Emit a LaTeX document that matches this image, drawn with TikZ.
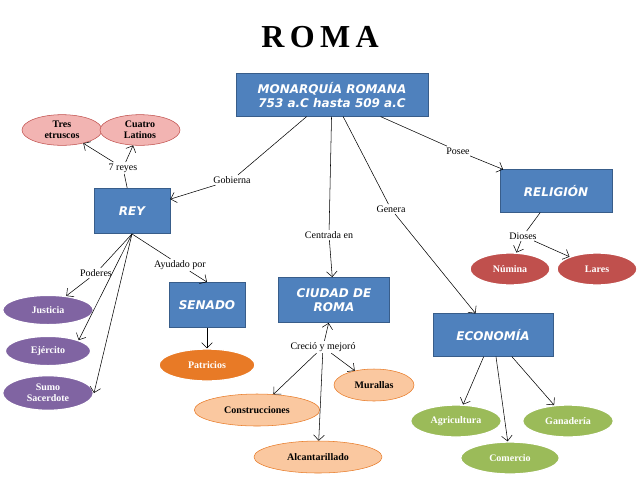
\documentclass[tikz,border=0pt]{standalone}
\usepackage{fontspec}
\setmainfont{Liberation Serif}
\newfontfamily\boxfont{DejaVu Sans}
\usetikzlibrary{shapes.geometric,arrows.meta}
\definecolor{boxblue}{RGB}{79,129,189}
\definecolor{boxedge}{RGB}{56,93,138}
\definecolor{pinkfill}{RGB}{242,180,178}
\definecolor{purplefill}{RGB}{128,100,162}
\definecolor{orangefill}{RGB}{232,122,38}
\definecolor{peachfill}{RGB}{250,200,160}
\definecolor{greenfill}{RGB}{155,187,89}
\definecolor{redfill}{RGB}{192,80,77}
\tikzset{
  concept/.style={draw=boxedge, fill=boxblue, text=white, font=\boxfont\bfseries\itshape\fontsize{9}{10}\selectfont, align=center, inner sep=0pt},
  leaf/.style={ellipse, draw=white, line width=1pt, font=\bfseries\fontsize{7.5}{8.5}\selectfont, align=center, inner sep=0pt},
  lbl/.style={font=\fontsize{7.5}{9}\selectfont, fill=white, inner sep=1pt},
  arr/.style={-{Straight Barb[length=4pt]}},
}
\begin{document}
\begin{tikzpicture}[x=0.75pt,y=-0.75pt]
  \useasboundingbox (0,0) rectangle (638,479);

  % title
  \node (title) at (320,37) {\bfseries\fontsize{24}{26}\selectfont R\,O\,M\,A};

  % main boxes
  \node[concept, minimum width=144pt, minimum height=32pt] (monarquia) at (332,95) {MONARQUÍA ROMANA\\753 a.C hasta 509 a.C};
  \node[concept, minimum width=57pt, minimum height=34pt] (rey) at (132,211) {REY};
  \node[concept, minimum width=84pt, minimum height=32pt] (religion) at (556,191) {RELIGIÓN};
  \node[concept, minimum width=57pt, minimum height=34pt] (senado) at (207,305) {SENADO};
  \node[concept, minimum width=83pt, minimum height=34pt] (ciudad) at (334,300) {CIUDAD DE\\ROMA};
  \node[concept, minimum width=90pt, minimum height=32pt] (economia) at (493,335) {ECONOMÍA};

  % ellipses
  \node[leaf, fill=pinkfill, draw=redfill, thin, minimum width=60pt, minimum height=23pt] (tres) at (62,130) {Tres\\etruscos};
  \node[leaf, fill=pinkfill, draw=redfill, thin, minimum width=60pt, minimum height=23pt] (cuatro) at (140,130) {Cuatro\\Latinos};
  \node[leaf, fill=purplefill, text=white, minimum width=68pt, minimum height=22pt] (justicia) at (48,310) {Justicia};
  \node[leaf, fill=purplefill, text=white, minimum width=64pt, minimum height=22pt] (ejercito) at (48,351) {Ejército};
  \node[leaf, fill=purplefill, text=white, minimum width=68pt, minimum height=26pt] (sumo) at (48,393) {Sumo\\Sacerdote};
  \node[leaf, fill=orangefill, text=white, minimum width=72pt, minimum height=24pt] (patricios) at (207,365) {Patricios};
  \node[leaf, fill=peachfill, draw=orangefill, thin, minimum width=94pt, minimum height=24pt] (construcciones) at (257,410) {Construcciones};
  \node[leaf, fill=peachfill, draw=orangefill, thin, minimum width=60pt, minimum height=24pt] (murallas) at (374,385) {Murallas};
  \node[leaf, fill=peachfill, draw=orangefill, thin, minimum width=96pt, minimum height=24pt] (alcantarillado) at (318,457) {Alcantarillado};
  \node[leaf, fill=greenfill, text=white, minimum width=68pt, minimum height=24pt] (agricultura) at (456,421) {Agricultura};
  \node[leaf, fill=greenfill, text=white, minimum width=68pt, minimum height=24pt] (ganaderia) at (568,421) {Ganadería};
  \node[leaf, fill=greenfill, text=white, minimum width=74pt, minimum height=24pt] (comercio) at (510,458) {Comercio};
  \node[leaf, fill=redfill, text=white, minimum width=60pt, minimum height=24pt] (numina) at (510,269) {Númina};
  \node[leaf, fill=redfill, text=white, minimum width=60pt, minimum height=24pt] (lares) at (597,269) {Lares};

  % link labels
  \node[lbl] (reyes) at (123,168) {7 reyes};
  \node[lbl] (gobierna) at (232,180) {Gobierna};
  \node[lbl] (posee) at (458,151) {Posee};
  \node[lbl] (genera) at (391,209) {Genera};
  \node[lbl] (centrada) at (329,235) {Centrada en};
  \node[lbl] (dioses) at (523,236) {Dioses};
  \node[lbl] (ayudado) at (180,265) {Ayudado por};
  \node[lbl] (poderes) at (96,273) {Poderes};
  \node[lbl] (crecio) at (323,347) {Creció y mejoró};

  % connectors
  \draw (monarquia) -- (gobierna);
  \draw[arr] (gobierna) -- (rey);
  \draw (monarquia) -- (posee);
  \draw[arr] (posee) -- (religion);
  \draw (monarquia) -- (genera);
  \draw[arr] (genera) -- (economia);
  \draw (monarquia) -- (centrada);
  \draw[arr] (centrada) -- (ciudad);
  \draw (rey) -- (reyes);
  \draw[arr] (reyes) -- (tres);
  \draw[arr] (reyes) -- (cuatro);
  \draw (rey.south) -- (poderes);
  \draw[arr] (poderes) -- (justicia);
  \draw[arr] (rey.south) -- (ejercito.north east);
  \draw[arr] (rey.south) -- (sumo.east);
  \draw (rey.south) -- (ayudado);
  \draw[arr] (ayudado) -- (senado.north);
  \draw[arr] (senado) -- (patricios);
  \draw[arr] (crecio) -- (ciudad);
  \draw[arr] (crecio) -- (construcciones);
  \draw[arr] (crecio) -- (murallas);
  \draw[arr] (crecio) -- (alcantarillado);
  \draw (religion) -- (dioses);
  \draw[arr] (dioses) -- (numina);
  \draw[arr] (dioses) -- (lares);
  \draw[arr] (economia) -- (agricultura);
  \draw[arr] (economia) -- (ganaderia);
  \draw[arr] (economia) -- (comercio);
\end{tikzpicture}
\end{document}
